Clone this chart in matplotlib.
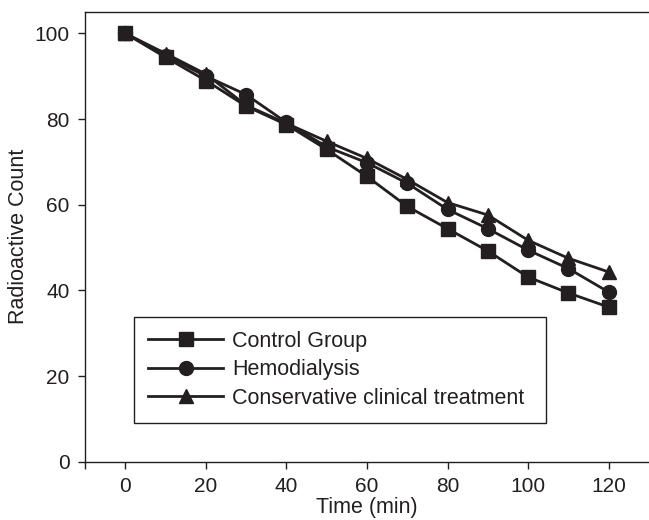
import matplotlib
matplotlib.use('Agg')
import matplotlib.pyplot as plt

# radioactive count over time, three groups
TIME = [0, 10, 20, 30, 40, 50, 60, 70, 80, 90, 100, 110, 120]
CONTROL = [100, 94.4, 89.0, 83.0, 78.7, 72.9, 66.6, 59.6, 54.4, 49.2, 43.1, 39.4, 36.1]
HEMO = [100, 94.8, 90.0, 85.7, 79.2, 73.5, 69.8, 65.0, 58.9, 54.4, 49.4, 45.1, 39.6]
CONSERV = [100, 95.3, 90.5, 83.2, 79.0, 74.8, 70.8, 65.9, 60.5, 57.6, 51.7, 47.5, 44.3]

LABELS = ['Control Group', 'Hemodialysis', 'Conservative clinical treatment']
X_TICKS = [-10, 0, 20, 40, 60, 80, 100, 120]
X_TICKLABELS = ['', '0', '20', '40', '60', '80', '100', '120']
Y_TICKS = [0, 20, 40, 60, 80, 100]

INK = '#231f20'

plt.rcParams['font.family'] = ['Liberation Sans', 'DejaVu Sans']

fig = plt.figure(figsize=(6.49, 5.2), dpi=100)
ax = fig.add_axes([0.131, 0.112, 0.869, 0.865])

ax.plot(TIME, CONTROL, color=INK, lw=2, marker='s', ms=10, label=LABELS[0])
ax.plot(TIME, HEMO, color=INK, lw=2, marker='o', ms=10, label=LABELS[1])
ax.plot(TIME, CONSERV, color=INK, lw=2, marker='^', ms=10.5, label=LABELS[2])

ax.set_xlim(-10, 130)
ax.set_ylim(0, 105)
ax.set_xticks(X_TICKS)
ax.set_xticklabels(X_TICKLABELS)
ax.set_yticks(Y_TICKS)
ax.tick_params(direction='out', length=5, width=1, colors=INK, labelsize=15, pad=6)

for s in ['left', 'bottom', 'top']:
    ax.spines[s].set_color(INK)
    ax.spines[s].set_linewidth(1)
ax.spines['right'].set_visible(False)

ax.set_xlabel('Time (min)', fontsize=15.5, color=INK, labelpad=1)
ax.set_ylabel('Radioactive Count', fontsize=15.5, color=INK, labelpad=4)

leg = ax.legend(loc='upper left', bbox_to_anchor=(0.087, 0.322, 0.73, 0.0), mode='expand',
                fontsize=15.5, frameon=True, fancybox=False, framealpha=1,
                edgecolor=INK, handlelength=3.5, handletextpad=0.4,
                labelspacing=0.35, borderpad=0.65, borderaxespad=0)
leg.get_frame().set_linewidth(1)
for t in leg.get_texts():
    t.set_color(INK)

fig.savefig('out.png', dpi=100)
